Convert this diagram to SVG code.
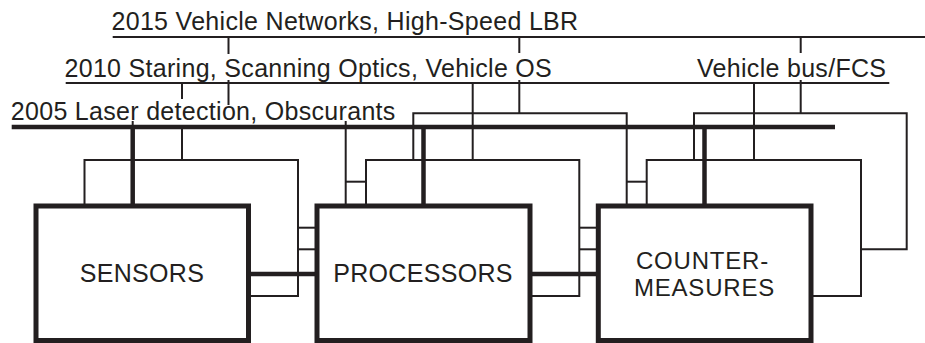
<svg xmlns="http://www.w3.org/2000/svg" width="925" height="343" viewBox="0 0 925 343">
<style>
.thin{fill:none;stroke:#231f20;stroke-width:2;stroke-linecap:butt;stroke-linejoin:miter}
.thick{fill:none;stroke:#231f20;stroke-width:4.5;stroke-linecap:butt}
.box{fill:#fff;stroke:#231f20;stroke-width:5}
.t{font-family:"Liberation Sans",Arial,sans-serif;font-size:25px;fill:#231f20;letter-spacing:0.3px}
.c{text-anchor:middle}
.s{font-size:24px;letter-spacing:0.8px}
</style>
<rect width="925" height="343" fill="#fff"/>
<g id="labels">
<text class="t" x="111.5" y="30">2015 Vehicle Networks, High-Speed LBR</text>
<text class="t" x="64.5" y="76.5">2010 Staring, Scanning Optics, Vehicle OS</text>
<text class="t" x="697" y="77">Vehicle bus/FCS</text>
<text class="t" x="10.8" y="120">2005 Laser detection, Obscurants</text>
</g>
<g id="connectors">
<line class="thin" x1="112.7" y1="37" x2="925" y2="37"/>
<line class="thin" x1="65.7" y1="83" x2="889.3" y2="83"/>
<line class="thick" x1="11.7" y1="127" x2="835" y2="127"/>
<polyline class="thin" points="228.5,37 228.5,54"/>
<polyline class="thin" points="228.5,80 228.5,105"/>
<polyline class="thin" points="519.3,37 519.3,53"/>
<polyline class="thin" points="519.3,80 519.3,113.3"/>
<polyline class="thin" points="800.7,37 800.7,53"/>
<polyline class="thin" points="800.7,80 800.7,113.3"/>
<polyline class="thin" points="413.3,160 413.3,113.3 626.7,113.3 626.7,206"/>
<polyline class="thin" points="694,160 694,113.3 906.7,113.3 906.7,249.3 861,249.3"/>
<polyline class="thin" points="182,83 182,99"/>
<polyline class="thin" points="182,125 182,160"/>
<polyline class="thin" points="472.7,83 472.7,160"/>
<polyline class="thin" points="754,83 754,160"/>
<line class="thin" x1="132.7" y1="121" x2="132.7" y2="126"/>
<line class="thin" x1="345.7" y1="121" x2="345.7" y2="126"/>
<polyline class="thin" points="84.5,206 84.5,160 298,160 298,296 248,296"/>
<line class="thin" x1="298" y1="227.7" x2="317" y2="227.7"/>
<line class="thin" x1="298" y1="249.3" x2="317" y2="249.3"/>
<polyline class="thin" points="345.7,125 345.7,206"/>
<line class="thin" x1="345.7" y1="181.7" x2="366" y2="181.7"/>
<polyline class="thin" points="366,206 366,160 579.3,160 579.3,296 530,296"/>
<line class="thin" x1="579.3" y1="227.7" x2="598" y2="227.7"/>
<line class="thin" x1="579.3" y1="249.3" x2="598" y2="249.3"/>
<line class="thin" x1="626.7" y1="181.7" x2="646.7" y2="181.7"/>
<polyline class="thin" points="646.7,206 646.7,160 861,160 861,296 811,296"/>
<line class="thick" x1="132.7" y1="127" x2="132.7" y2="206"/>
<line class="thick" x1="423.5" y1="127" x2="423.5" y2="206"/>
<line class="thick" x1="704.5" y1="127" x2="704.5" y2="206"/>
<line class="thick" x1="248" y1="274" x2="317" y2="274"/>
<line class="thick" x1="530" y1="274" x2="598" y2="274"/>
</g>
<g id="sensors">
<rect class="box" x="36" y="206" width="212.5" height="134.5"/>
<text class="t c" x="142" y="281.7">SENSORS</text>
</g>
<g id="processors">
<rect class="box" x="317" y="206" width="213" height="134.5"/>
<text class="t c" x="423" y="281.7">PROCESSORS</text>
</g>
<g id="countermeasures">
<rect class="box" x="598.3" y="206" width="212.7" height="134.5"/>
<text class="t c s" x="702.5" y="268.5">COUNTER-</text>
<text class="t c s" x="704.5" y="296">MEASURES</text>
</g>
</svg>
